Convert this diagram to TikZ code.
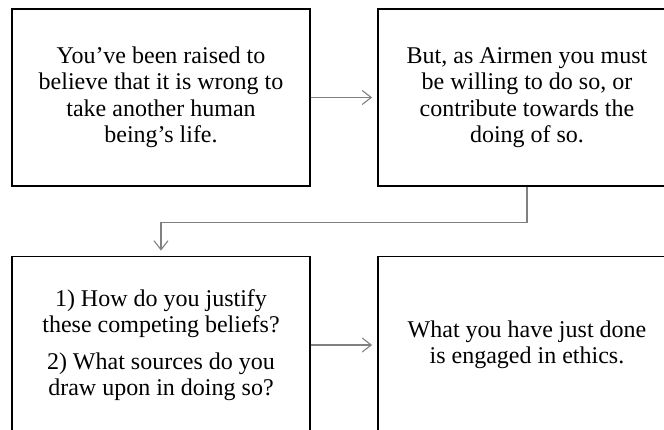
\documentclass[tikz,border=0pt]{standalone}
\usepackage{fontspec}
\setmainfont{Liberation Serif}
\usetikzlibrary{arrows.meta}

\begin{document}
\begin{tikzpicture}[x=1pt,y=-1pt]
\tikzstyle{thought}=[rectangle,draw=black,line width=1.8pt,minimum width=298pt,minimum height=177pt,align=center,font=\fontsize{24}{26.5}\selectfont]
\tikzstyle{link}=[draw=black!50,line width=1.1pt,shorten >=5pt,-{Straight Barb[length=9pt,width=14pt,line width=1.1pt]}]
\useasboundingbox (0,0) rectangle (664,430);
\node [thought] (raised) at (161,97.5) {You'{}ve been raised to\\believe that it is wrong to\\take another human\\being'{}s life.};
\node [thought] (airmen) at (527,97.5) {But, as Airmen you must\\be willing to do so, or\\contribute towards the\\doing of so.};
\node [thought] (justify) at (161,345) {1) How do you justify\\these competing beliefs?\\[10pt]2) What sources do you\\draw upon in doing so?};
\node [thought] (ethics) at (527,345) {What you have just done\\is engaged in ethics.};
\draw [link] (raised) -- (airmen);
\draw [link] (airmen.south) -- ++(0,36) -| (justify.north);
\draw [link] (justify) -- (ethics);
\end{tikzpicture}
\end{document}
